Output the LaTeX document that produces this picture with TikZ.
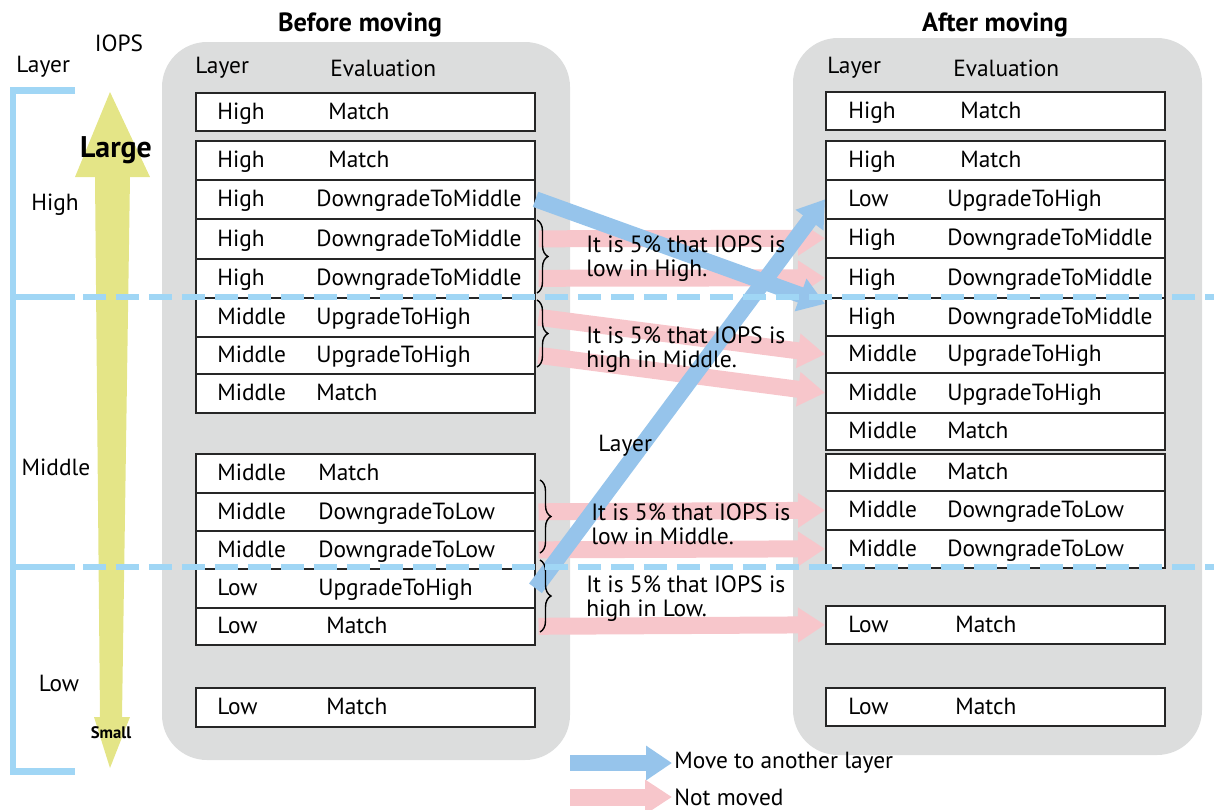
\documentclass[tikz,border=0pt]{standalone}
\usepackage{fontspec}
\setmainfont{PT Sans}
\usetikzlibrary{arrows.meta,decorations.pathreplacing,calc}

\definecolor{panelgrey}{RGB}{220,221,221}
\definecolor{movedblue}{RGB}{150,196,235}
\definecolor{keptpink}{RGB}{247,198,203}
\definecolor{layerblue}{RGB}{160,214,245}
\definecolor{iopsyellow}{RGB}{228,229,135}

\tikzset{
  panel/.style={fill=panelgrey, rounded corners=0.9cm},
  row/.style={draw=black!85, line width=0.9pt, fill=white, minimum width=6.78cm,
    inner sep=0pt, anchor=north west},
  cell/.style={anchor=west, inner sep=0pt, font=\fontsize{13.3}{15}\selectfont},
  entry/.style={cell, anchor=base west},
  note/.style={anchor=west, inner sep=0pt, align=left, font=\fontsize{13.4}{13.6}\selectfont},
  head/.style={inner sep=0pt, font=\bfseries\fontsize{15}{17}\selectfont},
  moved/.style={draw=movedblue, line width=0.32cm, -{Triangle[width=0.66cm,length=0.52cm]}},
  kept/.style={draw=keptpink, line width=0.34cm, -{Triangle[width=0.66cm,length=0.54cm]}},
  layerline/.style={draw=layerblue, line width=0.11cm},
  curly/.style={draw=black, line width=0.8pt, decorate,
    decoration={brace, amplitude=0.22cm}},
}

\begin{document}
\begin{tikzpicture}[x=0.02cm, y=-0.02cm]
\useasboundingbox (0,0) rectangle (1214,809);

% panels
\fill[panel] (162,42) rectangle (570,760);
\fill[panel] (793,38) rectangle (1202,755);

% IOPS arrow and layer bracket
\fill[iopsyellow] (110,92) -- (150,177) -- (130,177) -- (122,717) -- (130,717)
  -- (110,768) -- (94,717) -- (100,717) -- (95,177) -- (75,177) -- cycle;
\draw[layerline, line width=0.14cm] (75,90) -- (13,90) -- (13,771) -- (75,771);

\node[cell] (toplayer) at (16,67) {Layer};
\node[cell, anchor=center] (iops) at (119,43) {IOPS};
\node[head, anchor=center, font=\bfseries\fontsize{17}{19}\selectfont] (large) at (116,150) {Large};
\node[head, anchor=center, font=\bfseries\fontsize{9.5}{11}\selectfont] (small) at (111,733) {Small};
\node[cell, anchor=center] (lhigh) at (55,205) {High};
\node[cell, anchor=center] (lmiddle) at (56,467) {Middle};
\node[cell, anchor=center] (llow) at (59,683) {Low};

% titles and column heads
\node[head] (before) at (360,25) {Before moving};
\node[head] (after) at (995,25) {After moving};
\node[cell] (bhlayer) at (195,68) {Layer};
\node[cell] (bheval) at (330,68) {Evaluation};
\node[cell] (ahlayer) at (827,68) {Layer};
\node[cell] (aheval) at (953,68) {Evaluation};

% rows before moving
\foreach \n/\ya/\yb/\lay/\ev/\ex in {
  1/92/130/High/Match/328, 2/140/179/High/Match/328,
  3/179/218/High/DowngradeToMiddle/316, 4/218/258/High/DowngradeToMiddle/316,
  5/258/297/High/DowngradeToMiddle/316, 6/297/336/Middle/UpgradeToHigh/316,
  7/336/373/Middle/UpgradeToHigh/316, 8/373/412/Middle/Match/316,
  9/453/492/Middle/Match/318, 10/492/530/Middle/DowngradeToLow/318,
  11/530/568/Middle/DowngradeToLow/318, 12/568/607/Low/UpgradeToHigh/318,
  13/607/644/Low/Match/326, 14/687/726/Low/Match/326}{
  \pgfmathsetmacro\h{(\yb-\ya)*0.02}
  \node[row, minimum height=\h cm] (L\n) at (195,\ya) {};
  \node[entry] (L\n-lay) at (217,{(\ya+\yb)/2+8}) {\lay};
  \node[entry] (L\n-ev) at (\ex,{(\ya+\yb)/2+8}) {\ev};
}

% rows after moving
\foreach \n/\ya/\yb/\lay/\ev/\ex in {
  1/91/129/High/Match/960, 2/140/179/High/Match/960,
  3/179/218/Low/UpgradeToHigh/947, 4/218/257/High/DowngradeToMiddle/947,
  5/257/297/High/DowngradeToMiddle/947, 6/297/335/High/DowngradeToMiddle/947,
  7/335/372/Middle/UpgradeToHigh/947, 8/372/412/Middle/UpgradeToHigh/947,
  9/412/449/Middle/Match/947, 10/453/490/Middle/Match/947,
  11/490/529/Middle/DowngradeToLow/947, 12/529/567/Middle/DowngradeToLow/947,
  13/605/643/Low/Match/955, 14/687/725/Low/Match/955}{
  \pgfmathsetmacro\h{(\yb-\ya)*0.02}
  \node[row, minimum height=\h cm] (R\n) at (825,\ya) {};
  \node[entry] (R\n-lay) at (848,{(\ya+\yb)/2+8}) {\lay};
  \node[entry] (R\n-ev) at (\ex,{(\ya+\yb)/2+8}) {\ev};
}

% not moved
\draw[kept] ([xshift=0.06cm]L4.east) -- (R4.west);
\draw[kept] ([xshift=0.06cm]L5.east) -- (R5.west);
\draw[kept] ([xshift=0.06cm]L6.east) -- (R7.west);
\draw[kept] ([xshift=0.06cm]L7.east) -- (R8.west);
\draw[kept] ([xshift=0.06cm]L10.east) -- (R11.west);
\draw[kept] ([xshift=0.06cm]L11.east) -- (R12.west);
\draw[kept] ([xshift=0.06cm]L13.east) -- (R13.west);

% moved to another layer
\draw[moved] (L3.east) -- ([yshift=0.26cm]R6.west);
\draw[moved] (L12.east) -- (R3.west);

% braces and notes
\draw[curly] (537,220) -- (537,293);
\draw[curly] (537,300) -- (537,367);
\draw[curly] (540,480) -- (540,553);
\draw[curly] (540,560) -- (540,632);
\node[note] (note1) at (586,259) {It is 5\% that IOPS is\\low in High.};
\node[note] (note2) at (586,350) {It is 5\% that IOPS is\\high in Middle.};
\node[note] (note3) at (591,524) {It is 5\% that IOPS is\\low in Middle.};
\node[note] (note4) at (586,599) {It is 5\% that IOPS is\\high in Low.};
\node[cell] (midlayer) at (598,446) {Layer};

% layer borders
\draw[layerline] (13,297) -- (75,297);
\draw[layerline, dash pattern=on 0.46cm off 0.2cm] (83,297) -- (1214,297);
\draw[layerline] (13,567) -- (75,567);
\draw[layerline, dash pattern=on 0.46cm off 0.2cm] (83,567) -- (1214,567);

% legend
\coordinate (movedA) at (570,763);
\coordinate (movedB) at (672,763);
\coordinate (keptA) at (570,797);
\coordinate (keptB) at (672,797);
\draw[moved] (movedA) -- (movedB);
\draw[kept] (keptA) -- (keptB);
\node[cell] (movedtext) at (674,763) {Move to another layer};
\node[cell] (kepttext) at (674,797) {Not moved};
\end{tikzpicture}
\end{document}
